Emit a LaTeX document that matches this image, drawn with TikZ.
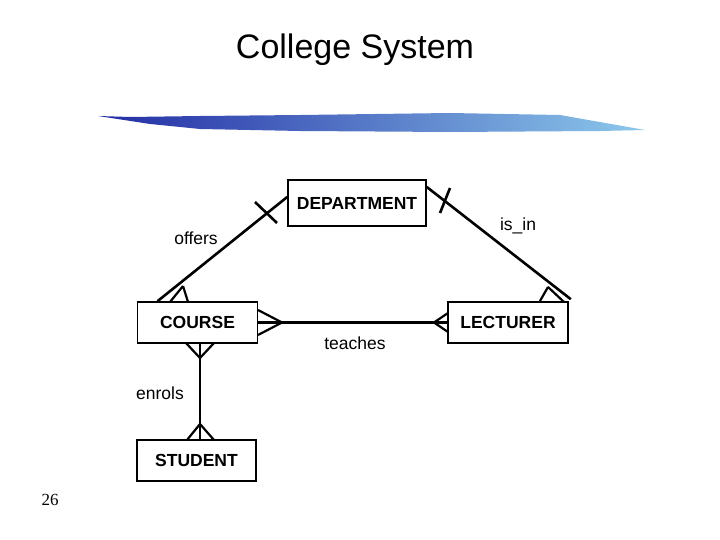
\documentclass[tikz,border=0pt]{standalone}
\usepackage{fontspec}
\setmainfont{Liberation Sans}
\newfontfamily\numfont{Liberation Serif}
\usetikzlibrary{positioning}
\definecolor{brushdark}{RGB}{35,45,165}
\definecolor{brushlight}{RGB}{140,200,235}
\tikzset{
  entity/.style={draw, line width=1.6pt, minimum width=120pt, minimum height=41pt,
    font=\fontsize{17.5}{20}\selectfont\bfseries},
  rel/.style={line width=2.6pt},
  foot/.style={line width=2.2pt},
  rlabel/.style={font=\fontsize{17.5}{20}\selectfont}
}
\begin{document}
\begin{tikzpicture}[x=1pt, y=-1pt]
\useasboundingbox (0,0) rectangle (720,540);

% title
    \node (title) at (355,50) {\fontsize{34}{40}\selectfont College System};
% brush stroke
    \shade[left color=brushdark, right color=brushlight]
        (98,116) -- (130,117) -- (200,116) -- (300,115) -- (450,113) -- (560,115)
        -- (645,130) -- (600,131) -- (450,132) -- (300,131) -- (200,129)
        -- (150,124) -- cycle;

% entities
    \node[entity, minimum width=138pt, minimum height=46pt] (dep) at (357,203) {DEPARTMENT};
    \node[entity] (course) at (197.5,322.5) {COURSE};
    \node[entity] (lect) at (508,322.5) {LECTURER};
    \node[entity, minimum width=119pt] (stud) at (196.5,460.5) {STUDENT};

% end points
    \coordinate (dep-o) at ([yshift=6pt]dep.west);
    \coordinate (co-o) at ([xshift=-40pt]course.north);
    \coordinate (dep-i) at ([yshift=16pt]dep.east);
    \coordinate (le-i) at ([xshift=2pt, yshift=2pt]lect.north east);
    \coordinate (co-e) at ([xshift=2.5pt]course.south);
    \coordinate (st-e) at ([xshift=3.5pt]stud.north);

% offers
    \draw[rel] (dep-o) -- (co-o);
    \draw[rel] (255,202) -- (277,223);
    \draw[foot] (183,286) -- (170,302) (183,286) -- (188,302);
    \node[rlabel] (offers) at (196,238) {offers};

% is_in
    \draw[rel] (dep-i) -- (le-i);
    \draw[rel] (450,188) -- (440,213);
    \draw[foot] (548,287) -- (540,301) (548,287) -- (564,302);
    \node[rlabel] (isin) at (518,226) {is\_in};

% teaches
    \draw[rel] (course.east) -- (lect.west);
    \draw[foot] (282,322.5) -- (258,310) (282,322.5) -- (258,335);
    \draw[foot] (434,322.5) -- (448,313) (434,322.5) -- (448,332);
    \node[rlabel] (teaches) at (355,343) {teaches};

% enrols
    \draw[rel] (co-e) -- (st-e);
    \draw[foot] (200,358) -- (186,343) (200,358) -- (214,343);
    \draw[foot] (200,424) -- (187,440) (200,424) -- (214,440);
    \node[rlabel] (enrols) at (160,393) {enrols};

% page number
    \node (page) at (50,500) {\numfont\fontsize{17}{20}\selectfont 26};

\end{tikzpicture}
\end{document}
